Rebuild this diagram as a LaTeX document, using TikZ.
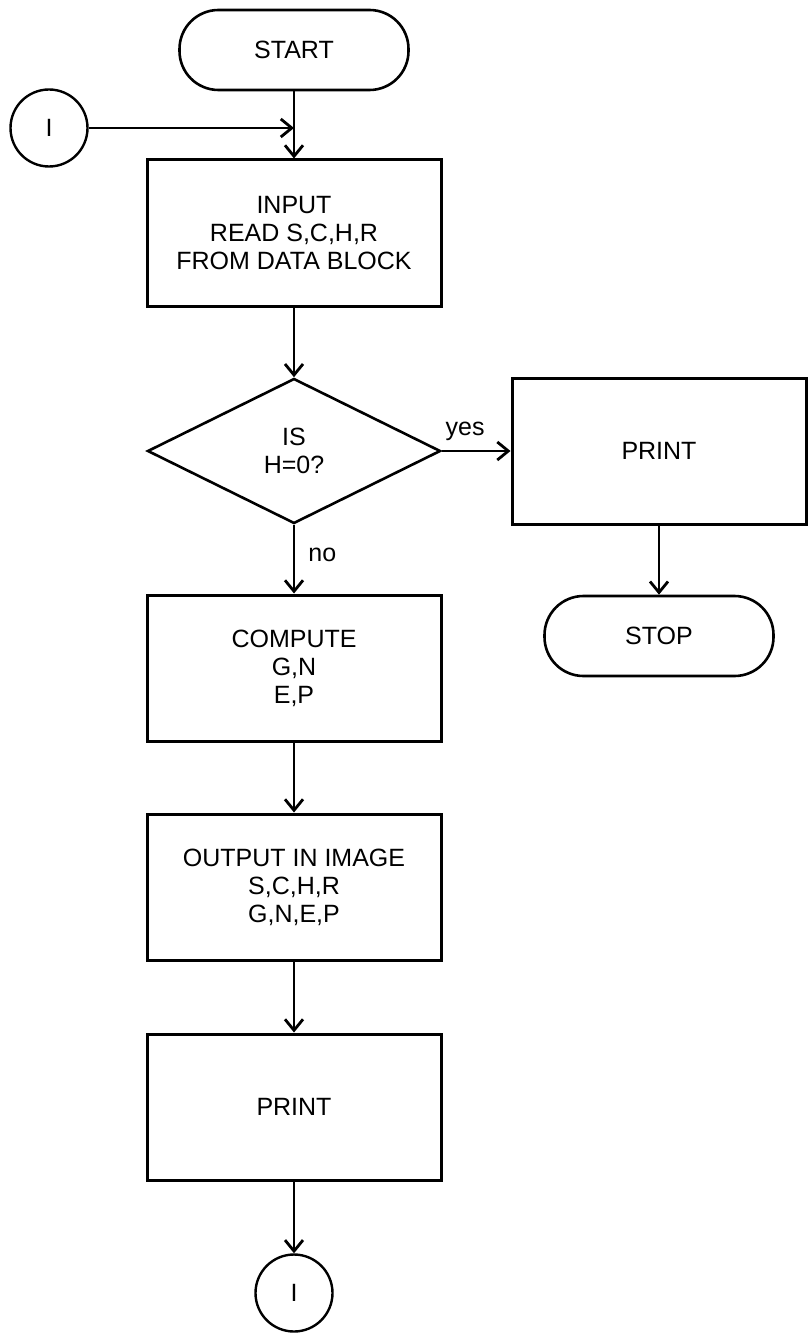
\documentclass[tikz,border=0pt]{standalone}
\usepackage{fontspec}
\setmainfont{Liberation Sans}
\usetikzlibrary{shapes.geometric, arrows.meta}

\begin{document}
\begin{tikzpicture}[
  x=1pt, y=-1pt,
  procbox/.style={rectangle, draw, line width=3pt, minimum width=294pt,
                  minimum height=146pt, align=center, inner sep=0pt,
                  font=\fontsize{25}{28}\selectfont},
  termbox/.style={rectangle, draw, line width=2.6pt, rounded corners=39pt,
                  minimum width=229pt, minimum height=80pt, align=center,
                  font=\fontsize{25}{28}\selectfont},
  decision/.style={diamond, draw, line width=2.6pt, minimum width=293pt,
                   minimum height=145pt, align=center, inner sep=0pt,
                   font=\fontsize{25}{28}\selectfont},
  connector/.style={circle, draw, line width=2.4pt, minimum size=77pt,
                    inner sep=0pt, font=\fontsize{25}{28}\selectfont},
  branch/.style={font=\fontsize{25}{28}\selectfont, inner sep=0pt},
  arrow/.style={-{Straight Barb[length=11pt, width=18pt]}, line width=2.8pt}
]
\useasboundingbox (0,0) rectangle (808,1337);

%% Main column
\node[termbox]  at (294,50)   (start)   {START};
\node[procbox]  at (294,233)  (input)   {INPUT\\READ S,C,H,R\\FROM DATA BLOCK};
\node[decision] at (294,451)  (decide)  {IS\\H=0?};
\node[procbox]  at (294,668)  (compute) {COMPUTE\\G,N\\E,P};
\node[procbox]  at (294,887)  (output)  {OUTPUT IN IMAGE\\S,C,H,R\\G,N,E,P};
\node[procbox]  at (294,1107) (printn)  {PRINT};
\node[connector] at (294,1293) (conend) {I};

%% Yes branch
\node[procbox]  at (659,451)  (printy)  {PRINT};
\node[termbox]  at (659,636)  (stop)    {STOP};

%% Entry connector
\node[connector] at (49,128)  (conin)   {I};
\coordinate (join) at (start.south |- conin.east);

%% Arrows
\draw[arrow] (start) -- (input);
\draw[arrow] (conin) -- (join);
\draw[arrow] (input) -- (decide);
\draw[arrow] (decide.east) -- node[branch, pos=0.34, anchor=base, yshift=16pt] {yes} (printy.west);
\draw[arrow] (decide.south) -- node[branch, pos=0.53, anchor=base west, xshift=13pt] {no} (compute.north);
\draw[arrow] (printy) -- (stop);
\draw[arrow] (compute) -- (output);
\draw[arrow] (output) -- (printn);
\draw[arrow] (printn) -- (conend);
\end{tikzpicture}
\end{document}
